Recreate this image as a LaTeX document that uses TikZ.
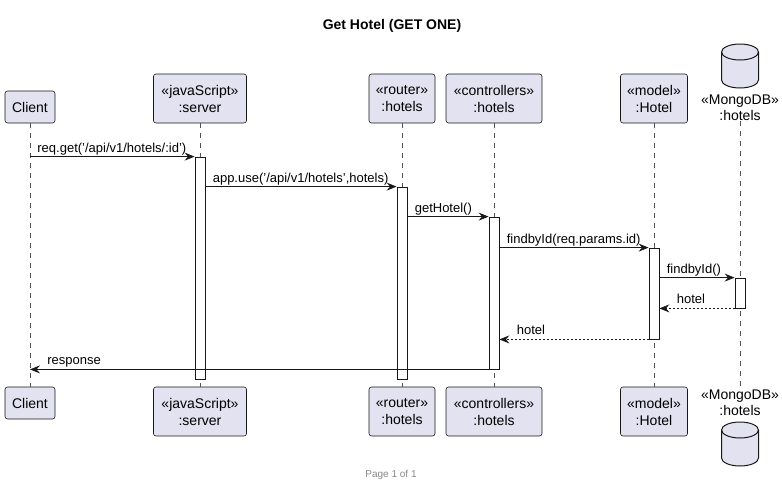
\documentclass[tikz,border=0pt]{standalone}
\usepackage{fontspec}
\setmainfont{Liberation Sans}
\usetikzlibrary{arrows.meta}
\definecolor{partfill}{HTML}{E2E2F0}
\definecolor{linec}{HTML}{181818}
\definecolor{footc}{HTML}{888888}
\begin{document}
\begin{tikzpicture}[x=1pt,y=-1pt,
  part/.style={draw=linec, fill=partfill, rounded corners=2.5pt, line width=0.6pt, align=center, inner sep=0pt, font=\fontsize{14}{17}\selectfont},
  act/.style={draw=linec, fill=white, line width=0.8pt, minimum width=10pt, inner sep=0pt},
  life/.style={draw=linec!75, line width=0.6pt, dash pattern=on 5pt off 5pt},
  msg/.style={draw=linec, line width=0.8pt, -{Stealth[length=10pt,width=8pt,inset=3.5pt]}},
  ret/.style={msg, dash pattern=on 2pt off 2pt},
  lbl/.style={font=\fontsize{13}{15}\selectfont, inner sep=0pt, anchor=base west, text=black},
  dbbody/.style={draw=linec, fill=partfill, line width=1pt},
  dblbl/.style={align=center, inner sep=0pt, font=\fontsize{14}{16}\selectfont}]
\useasboundingbox (0,0) rectangle (782,488);

% title and footer
\node[font=\bfseries\fontsize{14}{16}\selectfont] (title) at (392,26) {Get Hotel (GET ONE)};
\node[font=\fontsize{10}{12}\selectfont, text=footc] (footer) at (391,475) {Page 1 of 1};

% participants (top)
\node[part, minimum width=50pt, minimum height=32pt] (cl-top) at (30,107) {Client};
\node[part, minimum width=93pt, minimum height=49pt] (sv-top) at (200,98.5) {«javaScript»\\:server};
\node[part, minimum width=66pt, minimum height=49pt] (rt-top) at (402,98.5) {«router»\\:hotels};
\node[part, minimum width=96pt, minimum height=49pt] (ct-top) at (494,98.5) {«controllers»\\:hotels};
\node[part, minimum width=67pt, minimum height=49pt] (md-top) at (654,98.5) {«model»\\:Hotel};
\node[dblbl, anchor=south] (mg-top) at (740,121) {«MongoDB»\\:hotels};

% participants (bottom)
\node[part, minimum width=50pt, minimum height=32pt] (cl-bot) at (30,403) {Client};
\node[part, minimum width=93pt, minimum height=49pt] (sv-bot) at (200,411.5) {«javaScript»\\:server};
\node[part, minimum width=66pt, minimum height=49pt] (rt-bot) at (402,411.5) {«router»\\:hotels};
\node[part, minimum width=96pt, minimum height=49pt] (ct-bot) at (494,411.5) {«controllers»\\:hotels};
\node[part, minimum width=67pt, minimum height=49pt] (md-bot) at (654,411.5) {«model»\\:Hotel};
\node[dblbl, anchor=north] (mg-bot) at (740,390) {«MongoDB»\\:hotels};

% database cylinders
\foreach \cy in {44,422}{
\begin{scope}[shift={(740,\cy)}, x=1pt, y=1pt]
  \filldraw[dbbody] (-18.5,-8) -- (-18.5,-36)
    arc[start angle=180, end angle=360, x radius=18.5, y radius=8]
    -- (18.5,-8)
    arc[start angle=0, end angle=180, x radius=18.5, y radius=8] -- cycle;
  \draw[dbbody, fill=none] (-18.5,-8)
    arc[start angle=180, end angle=360, x radius=18.5, y radius=8];
\end{scope}}

% lifelines
\draw[life] (cl-top.south) -- (cl-bot.north);
\draw[life] (sv-top.south) -- (sv-bot.north);
\draw[life] (rt-top.south) -- (rt-bot.north);
\draw[life] (ct-top.south) -- (ct-bot.north);
\draw[life] (md-top.south) -- (md-bot.north);
\draw[life] (mg-top.south) -- (mg-bot.north);

% activations
\node[act, minimum height=222pt] (sv-act) at (200,268) {};
\node[act, minimum height=192pt] (rt-act) at (402,283) {};
\node[act, minimum height=152pt] (ct-act) at (494,293) {};
\node[act, minimum height=91pt] (md-act) at (654,293.5) {};
\node[act, minimum height=30pt] (mg-act) at (740,293) {};

% messages
\draw[msg] (cl-top.south |- sv-act.north) -- (sv-act.north west)
  node[lbl, pos=0, xshift=7pt, yshift=4.5pt] {req.get('/api/v1/hotels/:id')};
\draw[msg] (sv-act.east |- rt-act.north) -- (rt-act.north west)
  node[lbl, pos=0, xshift=7pt, yshift=4.5pt] {app.use('/api/v1/hotels',hotels)};
\draw[msg] (rt-act.east |- ct-act.north) -- (ct-act.north west)
  node[lbl, pos=0, xshift=7pt, yshift=4.5pt] {getHotel()};
\draw[msg] (ct-act.east |- md-act.north) -- (md-act.north west)
  node[lbl, pos=0, xshift=7pt, yshift=4.5pt] {findbyId(req.params.id)};
\draw[msg] (md-act.east |- mg-act.north) -- (mg-act.north west)
  node[lbl, pos=0, xshift=7pt, yshift=4.5pt] {findbyId()};
\draw[ret] (mg-act.south west) -- (md-act.east |- mg-act.south)
  node[lbl, pos=1, xshift=17pt, yshift=4.5pt] {hotel};
\draw[ret] (md-act.south west) -- (ct-act.east |- md-act.south)
  node[lbl, pos=1, xshift=17pt, yshift=4.5pt] {hotel};
\draw[msg] (ct-act.south west) -- (cl-top.south |- ct-act.south)
  node[lbl, pos=1, xshift=17pt, yshift=4.5pt] {response};
\end{tikzpicture}
\end{document}
